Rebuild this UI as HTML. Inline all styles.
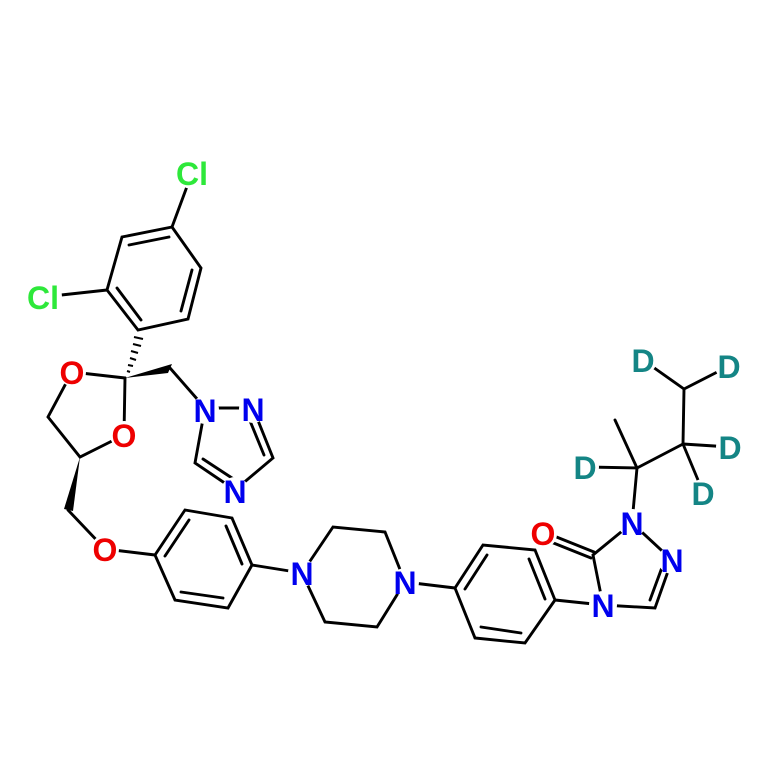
<!DOCTYPE html>
<html><head><style>html,body{margin:0;padding:0;background:#fff}svg{display:block}
text{font-family:"Liberation Sans",Arial,sans-serif;font-weight:bold;font-size:32px;text-anchor:middle;dominant-baseline:central}</style></head>
<body>
<svg width="768" height="779" viewBox="0 0 768 779" xmlns="http://www.w3.org/2000/svg">
<g stroke="#000" stroke-width="2.9" fill="none" stroke-linecap="round">
<line x1="192" y1="173" x2="172" y2="227"/>
<polyline points="172,227 201,268 188,319 138,330 107,290 122,237 172,227"/>
<line x1="129" y1="245" x2="169" y2="237"/>
<line x1="192" y1="270" x2="181" y2="311"/>
<line x1="141" y1="320" x2="117" y2="288"/>
<line x1="107" y1="290" x2="43" y2="297"/>
<line x1="125" y1="378" x2="72" y2="372"/>
<line x1="125" y1="378" x2="124" y2="435"/>
<polyline points="72,372 48,417 80,457 124,435"/>
<line x1="170" y1="368" x2="205" y2="408"/>
<polyline points="205,408 253,408 273,458 235,490 195,463 205,408"/>
<line x1="248" y1="416" x2="264" y2="455"/>
<line x1="203" y1="459" x2="235" y2="480"/>
<line x1="68" y1="510" x2="105" y2="549"/>
<line x1="105" y1="549" x2="155" y2="555"/>
<polyline points="185,510 232,518 252,565 228,608 175,600 155,555 185,510"/>
<line x1="165" y1="556" x2="189" y2="520"/>
<line x1="226" y1="526" x2="242" y2="564"/>
<line x1="223" y1="598" x2="181" y2="592"/>
<line x1="252" y1="565" x2="302" y2="573"/>
<polyline points="302,573 333,527 385,532 405,582 377,627 325,622 302,573"/>
<line x1="405" y1="582" x2="455" y2="588"/>
<polyline points="455,588 483,545 535,550 555,600 525,643 475,638 455,588"/>
<line x1="465" y1="589" x2="487" y2="555"/>
<line x1="529" y1="559" x2="545" y2="599"/>
<line x1="521" y1="633" x2="481" y2="627"/>
<line x1="555" y1="600" x2="603" y2="605"/>
<polyline points="603,605 593,555 632,523 672,560 655,608 603,605"/>
<line x1="650" y1="600" x2="664" y2="562"/>
<line x1="594" y1="552" x2="544" y2="532"/>
<line x1="591" y1="558" x2="541" y2="538"/>
<line x1="632" y1="523" x2="637" y2="468"/>
<line x1="637" y1="468" x2="615" y2="420"/>
<line x1="637" y1="468" x2="587" y2="467"/>
<line x1="637" y1="468" x2="683" y2="444"/>
<line x1="683" y1="444" x2="730" y2="447"/>
<line x1="683" y1="444" x2="703" y2="492"/>
<line x1="683" y1="444" x2="684" y2="389"/>
<line x1="684" y1="389" x2="643" y2="360"/>
<line x1="684" y1="389" x2="729" y2="366"/>
</g>
<g fill="#000">
<polygon points="125,378 172,364 168,373"/>
<polygon points="80,457 64,509 73,511"/>
</g>
<g stroke="#000" stroke-width="2">
<line x1="134" y1="337" x2="143" y2="339"/>
<line x1="133" y1="344" x2="141" y2="346"/>
<line x1="131" y1="351" x2="138" y2="353"/>
<line x1="130" y1="358" x2="136" y2="360"/>
<line x1="128" y1="365" x2="133" y2="366"/>
<line x1="127" y1="371" x2="130" y2="372"/>
</g>
<g fill="#fff">
<circle cx="192" cy="173" r="16"/><circle cx="43" cy="297" r="19"/>
<circle cx="72" cy="372" r="14"/><circle cx="124" cy="435" r="14"/><circle cx="105" cy="549" r="14"/>
<circle cx="205" cy="410" r="14"/><circle cx="253" cy="409" r="14"/><circle cx="235" cy="491" r="14"/>
<circle cx="302" cy="573" r="14"/><circle cx="405" cy="582" r="14"/>
<circle cx="543" cy="534" r="14"/><circle cx="603" cy="605" r="14"/><circle cx="632" cy="523" r="14"/><circle cx="672" cy="560" r="14"/>
<circle cx="585" cy="467" r="14"/><circle cx="730" cy="447" r="14"/><circle cx="703" cy="493" r="14"/><circle cx="643" cy="360" r="14"/><circle cx="729" cy="366" r="14"/>
</g>
<g fill="#2ee83a"><text x="192" y="174">Cl</text><text x="43" y="298">Cl</text></g>
<g fill="#ee0000"><text x="72" y="373">O</text><text x="124" y="436">O</text><text x="105" y="550">O</text><text x="543" y="534">O</text></g>
<g fill="#0000ee"><text x="205" y="411">N</text><text x="253" y="410">N</text><text x="235" y="492">N</text>
<text x="302" y="574">N</text><text x="405" y="583">N</text><text x="603" y="606">N</text><text x="632" y="524">N</text><text x="672" y="561">N</text></g>
<g fill="#148585"><text x="585" y="468">D</text><text x="730" y="448">D</text><text x="703" y="494">D</text><text x="643" y="361">D</text><text x="729" y="367">D</text></g>
</svg>
</body></html>
